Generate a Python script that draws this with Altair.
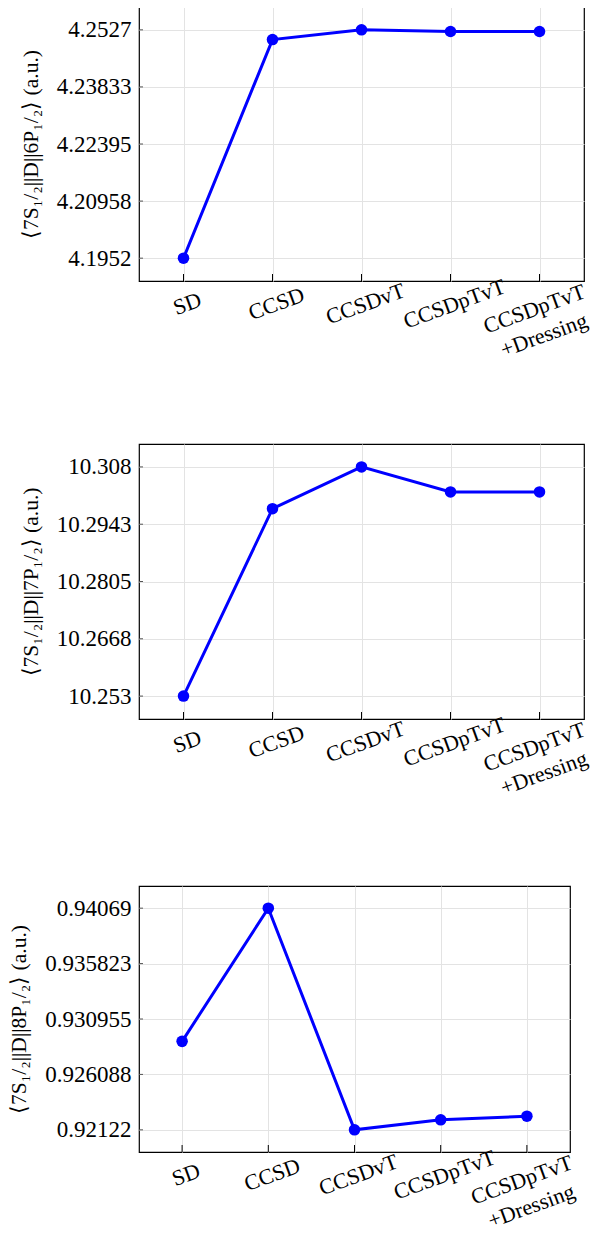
import altair as alt
import pandas as pd

methods = ["SD", "CCSD", "CCSDvT", "CCSDpTvT", "CCSDpTvT\n+Dressing"]

v6p = [4.1952, 4.25025, 4.2527, 4.25227, 4.25227]
v7p = [10.253, 10.29798, 10.308, 10.3020, 10.3020]
v8p = [0.92899, 0.94069, 0.92122, 0.92210, 0.92242]

ticks6 = [4.1952, 4.209575, 4.22395, 4.238325, 4.2527]
labels6 = ["4.1952", "4.20958", "4.22395", "4.23833", "4.2527"]
ticks7 = [10.253, 10.26675, 10.2805, 10.29425, 10.308]
labels7 = ["10.253", "10.2668", "10.2805", "10.2943", "10.308"]
ticks8 = [0.92122, 0.9260875, 0.930955, 0.9358225, 0.94069]
labels8 = ["0.92122", "0.926088", "0.930955", "0.935823", "0.94069"]

dom6 = [4.18945, 4.25845]
dom7 = [10.2475, 10.3135]
dom8 = [0.919273, 0.942637]

title6 = "⟨7S₁/₂||D||6P₁/₂⟩ (a.u.)"
title7 = "⟨7S₁/₂||D||7P₁/₂⟩ (a.u.)"
title8 = "⟨7S₁/₂||D||8P₁/₂⟩ (a.u.)"

FONT = "Liberation Serif"
BLUE = "#0000ff"
GRID = "#e3e3e3"


def panel(values, ticks, labels, dom, title, w, h):
    df = pd.DataFrame({"method": methods, "value": values})
    tdf = pd.DataFrame({"tick": ticks})
    expr = " : ".join(
        f"abs(datum.value - {t}) < 1e-9 ? '{l}'" for t, l in zip(ticks, labels)
    ) + " : ''"
    x = alt.X(
        "method:N",
        sort=methods,
        scale=alt.Scale(type="point", padding=0.5),
        axis=alt.Axis(
            title=None,
            labelAngle=-20,
            labelAlign="center",
            labelBaseline="top",
            labelExpr="split(datum.label, '\\n')",
            labelPadding={"condition": {"test": "datum.index == 1", "value": 18}, "value": 13},
            labelOffset={"condition": {"test": "datum.index == 1", "value": -9}, "value": 0},
            labelFontSize=22,
            labelFont=FONT,
            labelColor="black",
            labelLineHeight=28,
            ticks=False,
            domain=False,
            grid=True,
            gridColor=GRID,
            gridWidth=1,
        ),
    )
    yscale = alt.Scale(domain=dom, nice=False, zero=False)
    y = alt.Y(
        "value:Q",
        scale=yscale,
        axis=alt.Axis(
            values=ticks,
            labelExpr=expr,
            title=title,
            titleFont=FONT,
            titleFontSize=21.5,
            titleFontWeight="normal",
            titleColor="black",
            titlePadding=14,
            labelFontSize=23,
            labelFont=FONT,
            labelColor="black",
            labelPadding=8,
            ticks=False,
            domain=False,
            grid=True,
            gridColor=GRID,
            gridWidth=1,
        ),
    )
    base = alt.Chart(df).encode(x=x, y=y)
    line = base.mark_line(color=BLUE, strokeWidth=3)
    pts = base.mark_circle(color=BLUE, size=133, opacity=1)
    xtk = alt.Chart(df).mark_rule(color="black", strokeWidth=1).encode(
        x=alt.X("method:N", sort=methods),
        y=alt.value(h),
        y2=alt.value(h - 7),
    )
    ytk = alt.Chart(tdf).mark_rule(color="#555555", strokeWidth=1).encode(
        y=alt.Y("tick:Q", scale=yscale),
        x=alt.value(0),
        x2=alt.value(4),
    )
    return alt.layer(line, pts, xtk, ytk).properties(width=w, height=h)


p1 = panel(v6p, ticks6, labels6, dom6, title6, 445, 274)
p2 = panel(v7p, ticks7, labels7, dom7, title7, 445, 275)
p3 = panel(v8p, ticks8, labels8, dom8, title8, 431, 266)

top = alt.vconcat(p1, p2, spacing=79).resolve_scale(x="independent", y="independent")
chart = (
    alt.vconcat(top, p3, spacing=83)
    .resolve_scale(x="independent", y="independent")
    .configure(
        padding={"top": -2, "left": 0, "right": -8, "bottom": 0},
        view=alt.ViewConfig(stroke="black", strokeWidth=1.2),
    )
)

chart.save("out.html", embed_options={"renderer": "svg", "actions": False})
